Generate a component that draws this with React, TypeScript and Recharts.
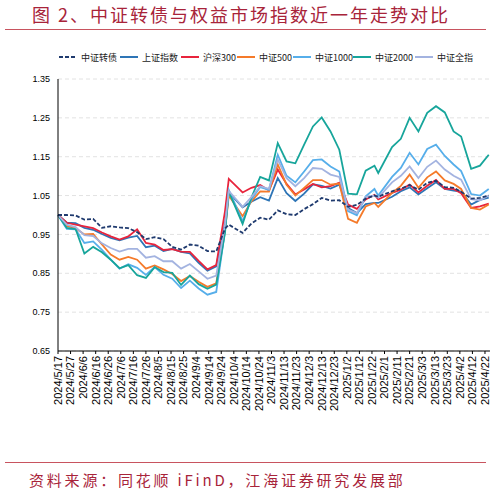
import React from 'react';
import { LineChart, Line, XAxis, YAxis, CartesianGrid } from 'recharts';

// weekly closes, normalised to 2024/5/17 = 1
const dates = [
  '2024/5/17', '2024/5/24', '2024/5/31', '2024/6/7', '2024/6/14', '2024/6/21', '2024/6/28', '2024/7/5', '2024/7/12', '2024/7/19',
  '2024/7/26', '2024/8/2', '2024/8/9', '2024/8/16', '2024/8/23', '2024/8/30', '2024/9/6', '2024/9/13', '2024/9/20', '2024/9/27',
  '2024/9/30', '2024/10/11', '2024/10/18', '2024/10/25', '2024/11/1', '2024/11/8', '2024/11/15', '2024/11/22', '2024/11/29', '2024/12/6',
  '2024/12/13', '2024/12/20', '2024/12/27', '2025/1/3', '2025/1/10', '2025/1/17', '2025/1/24', '2025/1/27', '2025/2/7', '2025/2/14',
  '2025/2/21', '2025/2/28', '2025/3/7', '2025/3/14', '2025/3/21', '2025/3/28', '2025/4/3', '2025/4/11', '2025/4/18', '2025/4/25',
];

const cbIndex = [
  1.0, 1.0, 0.999, 0.988, 0.99, 0.967, 0.971, 0.968, 0.966, 0.956,
  0.938, 0.943, 0.938, 0.918, 0.911, 0.924, 0.921, 0.907, 0.906, 0.965,
  0.975, 0.954, 0.978, 0.993, 0.988, 1.012, 1.002, 1.0, 1.015, 1.028,
  1.044, 1.037, 1.038, 1.021, 1.026, 1.042, 1.05, 1.047, 1.061, 1.068,
  1.077, 1.065, 1.083, 1.088, 1.072, 1.07, 1.06, 1.042, 1.044, 1.05,
];
const shIndex = [
  1.0, 0.98, 0.979, 0.967, 0.962, 0.951, 0.941, 0.935, 0.942, 0.946,
  0.917, 0.921, 0.907, 0.913, 0.905, 0.901, 0.877, 0.857, 0.868, 0.979,
  1.058, 1.02, 1.034, 1.046, 1.037, 1.095, 1.056, 1.036, 1.055, 1.079,
  1.075, 1.068, 1.078, 1.018, 1.005, 1.028, 1.031, 1.031, 1.047, 1.061,
  1.071, 1.053, 1.069, 1.084, 1.067, 1.063, 1.06, 1.027, 1.039, 1.045,
];
const hs300 = [
  1.0, 0.98, 0.975, 0.971, 0.966, 0.955, 0.945, 0.937, 0.945, 0.963,
  0.928, 0.924, 0.91, 0.912, 0.906, 0.905, 0.882, 0.86, 0.871, 1.01,
  1.093, 1.058, 1.07, 1.077, 1.063, 1.117, 1.08, 1.053, 1.066, 1.08,
  1.071, 1.074, 1.083, 1.027, 1.016, 1.04, 1.052, 1.04, 1.057, 1.065,
  1.078, 1.058, 1.075, 1.09, 1.067, 1.067, 1.056, 1.018, 1.022, 1.029,
];
const zz500 = [
  1.0, 0.972, 0.966, 0.95, 0.951, 0.924, 0.898, 0.885, 0.892, 0.885,
  0.862, 0.87, 0.86, 0.848, 0.83, 0.843, 0.828, 0.815, 0.824, 0.96,
  1.05, 0.997, 1.035, 1.061, 1.06, 1.13, 1.078, 1.05, 1.07, 1.09,
  1.09, 1.078, 1.081, 0.99, 0.98, 1.022, 1.031, 1.021, 1.057, 1.075,
  1.104, 1.07, 1.097, 1.112, 1.089, 1.08, 1.067, 1.018, 1.014, 1.027,
];
const zz1000 = [
  1.0, 0.964, 0.963, 0.928, 0.932, 0.91, 0.885, 0.862, 0.873, 0.864,
  0.846, 0.866, 0.846, 0.836, 0.812, 0.831, 0.811, 0.795, 0.802, 0.96,
  1.064, 0.984, 1.04, 1.072, 1.065, 1.155, 1.101, 1.084, 1.112, 1.141,
  1.143, 1.125, 1.112, 1.01, 0.999, 1.048, 1.067, 1.05, 1.098, 1.121,
  1.16, 1.13, 1.17, 1.181, 1.152, 1.13, 1.113, 1.054, 1.05, 1.067,
];
const zz2000 = [
  1.0, 0.967, 0.964, 0.901, 0.918, 0.904, 0.885, 0.863, 0.871, 0.845,
  0.838, 0.866, 0.853, 0.851, 0.82, 0.844, 0.822, 0.81, 0.821, 0.955,
  1.06, 0.977, 1.045, 1.098, 1.089, 1.185, 1.138, 1.133, 1.181, 1.228,
  1.251, 1.215, 1.168, 1.055, 1.053, 1.114, 1.127, 1.108, 1.175, 1.196,
  1.25, 1.215, 1.263, 1.28, 1.264, 1.215, 1.202, 1.119, 1.127, 1.155,
];
const zzAll = [
  1.0, 0.975, 0.969, 0.948, 0.946, 0.927, 0.915, 0.906, 0.913, 0.913,
  0.89, 0.894, 0.881, 0.881, 0.862, 0.874, 0.855, 0.836, 0.844, 0.975,
  1.062, 1.021, 1.046, 1.074, 1.067, 1.143, 1.095, 1.074, 1.095, 1.121,
  1.119, 1.104, 1.098, 1.014, 1.005, 1.047, 1.05, 1.045, 1.084, 1.101,
  1.125, 1.095, 1.124, 1.14, 1.117, 1.101, 1.091, 1.041, 1.038, 1.05,
];

const xTickLabels = [
  '2024/5/17', '2024/5/27', '2024/6/6', '2024/6/16', '2024/6/26', '2024/7/6', '2024/7/16', '2024/7/26', '2024/8/5',
  '2024/8/15', '2024/8/25', '2024/9/4', '2024/9/14', '2024/9/24', '2024/10/4', '2024/10/14', '2024/10/24', '2024/11/3',
  '2024/11/13', '2024/11/23', '2024/12/3', '2024/12/13', '2024/12/23', '2025/1/2', '2025/1/12', '2025/1/22', '2025/2/1',
  '2025/2/11', '2025/2/21', '2025/3/3', '2025/3/13', '2025/3/23', '2025/4/2', '2025/4/12', '2025/4/22',
];
const yTicks = [0.65, 0.75, 0.85, 0.95, 1.05, 1.15, 1.25, 1.35];

const series = [
  { key: 'sh', name: '上证指数', values: shIndex, color: '#2E75B6', dash: undefined },
  { key: 'hs300', name: '沪深300', values: hs300, color: '#E8243C', dash: undefined },
  { key: 'zz500', name: '中证500', values: zz500, color: '#F57A2A', dash: undefined },
  { key: 'zz1000', name: '中证1000', values: zz1000, color: '#56AEEA', dash: undefined },
  { key: 'zz2000', name: '中证2000', values: zz2000, color: '#17A59B', dash: undefined },
  { key: 'zzAll', name: '中证全指', values: zzAll, color: '#A3B3E0', dash: undefined },
  { key: 'cb', name: '中证转债', values: cbIndex, color: '#1F3A6E', dash: '4 2' },
];
const legendOrder = ['cb', 'sh', 'hs300', 'zz500', 'zz1000', 'zz2000', 'zzAll'];

const BASE = Date.UTC(2024, 4, 17);
const toDay = (s: string) => {
  const [y, m, d] = s.split('/').map(Number);
  return Math.round((Date.UTC(y, m - 1, d) - BASE) / 86400000);
};

const data = dates.map((d, i) => {
  const row: any = { day: toDay(d) };
  series.forEach((s) => (row[s.key] = s.values[i]));
  return row;
});
const xTicks = xTickLabels.map(toDay);
const tickLabel = new Map(xTicks.map((t, i) => [t, xTickLabels[i]]));

const RED = '#A8243A';
const NUM_FONT = '"Liberation Sans", Arial, sans-serif';
const CJK_FONT = '"Noto Sans CJK SC", sans-serif';

const XTick = ({ x, y, payload }: any) => (
  <text
    x={0}
    y={0}
    transform={`translate(${x},${y}) rotate(-90)`}
    textAnchor="end"
    dy="0.35em"
    fontSize={11}
    fill="#000"
    fontFamily={NUM_FONT}
  >
    {tickLabel.get(payload.value)}
  </text>
);

const legendLeft = [59, 120, 181, 237, 293, 353, 415];

export default function App() {
  return (
    <div style={{ position: 'absolute', left: 0, top: 0, width: 501, height: 493, background: '#fff' }}>
      <div
        style={{
          position: 'absolute', left: 32, top: 4, fontSize: 18, lineHeight: '20px', letterSpacing: 2,
          color: RED, fontFamily: CJK_FONT, whiteSpace: 'nowrap',
        }}
      >
        图 2、中证转债与权益市场指数近一年走势对比
      </div>
      <div style={{ position: 'absolute', left: 5, top: 29, width: 481, height: 1, background: '#C8545F' }} />

      {legendOrder.map((k, i) => {
        const s = series.find((q) => q.key === k)!;
        return (
          <div
            key={k}
            style={{ position: 'absolute', left: legendLeft[i], top: 51, height: 12, display: 'flex', alignItems: 'center', whiteSpace: 'nowrap' }}
          >
            <svg width={18} height={4} style={{ marginRight: 4 }}>
              <line x1={0} y1={2} x2={18} y2={2} stroke={s.color} strokeWidth={2} strokeDasharray={s.dash} />
            </svg>
            <span style={{ fontSize: 9, color: '#222', fontFamily: CJK_FONT }}>{s.name}</span>
          </div>
        );
      })}

      <LineChart width={501} height={493} data={data} margin={{ top: 79, right: 11, left: 13, bottom: 72 }}>
        <CartesianGrid horizontal vertical={false} stroke="#E2E2E2" strokeDasharray="4 3" />
        <XAxis
          dataKey="day"
          type="number"
          domain={[0, 344]}
          ticks={xTicks}
          interval={0}
          height={70}
          tickSize={3}
          tickMargin={2}
          axisLine={{ stroke: '#000' }}
          tickLine={{ stroke: '#000' }}
          tick={<XTick />}
        />
        <YAxis
          type="number"
          domain={[0.65, 1.35]}
          ticks={yTicks}
          interval={0}
          width={45}
          tickLine={false}
          axisLine={{ stroke: '#000' }}
          tick={{ fontSize: 9, fill: '#000', fontFamily: NUM_FONT }}
          tickFormatter={(v: number) => v.toFixed(2)}
        />
        {series.map((s) => (
          <Line
            key={s.key}
            type="linear"
            dataKey={s.key}
            stroke={s.color}
            strokeWidth={1.8}
            strokeDasharray={s.dash}
            dot={false}
            activeDot={false}
            isAnimationActive={false}
          />
        ))}
      </LineChart>

      <div style={{ position: 'absolute', left: 5, top: 462, width: 481, height: 1, background: '#C8545F' }} />
      <div
        style={{
          position: 'absolute', left: 29, top: 471, fontSize: 15, lineHeight: '17px', letterSpacing: 2.8,
          color: RED, fontFamily: CJK_FONT, whiteSpace: 'nowrap',
        }}
      >
        资料来源：同花顺 iFinD，江海证券研究发展部
      </div>
    </div>
  );
}
